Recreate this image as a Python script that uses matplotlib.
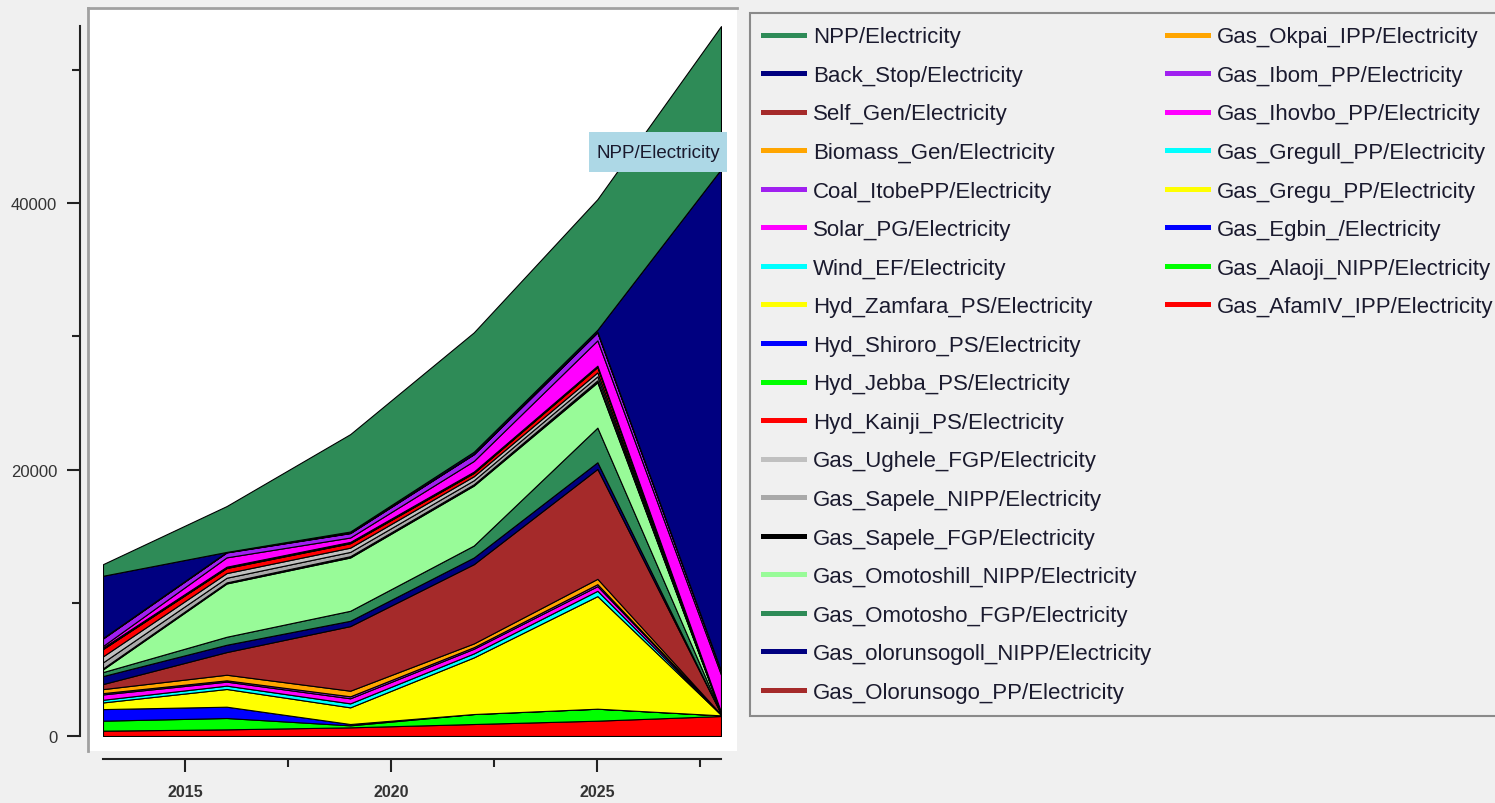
import matplotlib
matplotlib.use('Agg')
from matplotlib import pyplot as plt
from matplotlib.lines import Line2D
from matplotlib.patches import Rectangle
from matplotlib.ticker import MultipleLocator

plt.rcParams['font.family'] = ['Liberation Sans', 'DejaVu Sans']

years = [2013, 2016, 2019, 2022, 2025, 2028]

# stack order, bottom first
names = ['Gas_AfamIV_IPP/Electricity', 'Gas_Alaoji_NIPP/Electricity', 'Gas_Egbin_/Electricity',
         'Gas_Gregu_PP/Electricity', 'Gas_Gregull_PP/Electricity', 'Gas_Ihovbo_PP/Electricity',
         'Gas_Ibom_PP/Electricity', 'Gas_Okpai_IPP/Electricity', 'Gas_Olorunsogo_PP/Electricity',
         'Gas_olorunsogoll_NIPP/Electricity', 'Gas_Omotosho_FGP/Electricity',
         'Gas_Omotoshill_NIPP/Electricity', 'Gas_Sapele_FGP/Electricity',
         'Gas_Sapele_NIPP/Electricity', 'Gas_Ughele_FGP/Electricity', 'Hyd_Kainji_PS/Electricity',
         'Hyd_Jebba_PS/Electricity', 'Hyd_Shiroro_PS/Electricity', 'Hyd_Zamfara_PS/Electricity',
         'Wind_EF/Electricity', 'Solar_PG/Electricity', 'Coal_ItobePP/Electricity',
         'Biomass_Gen/Electricity', 'Self_Gen/Electricity', 'Back_Stop/Electricity',
         'NPP/Electricity']

afam       = [400, 500, 650, 900, 1150, 1500]
alaoji     = [750, 850, 150, 750, 900, 50]
egbin      = [870, 850, 100, 0, 0, 0]
gregu      = [500, 1330, 1250, 4250, 8450, 50]
gregu2     = [200, 250, 300, 300, 400, 0]
ihovbo     = [400, 300, 380, 350, 350, 0]
ibom       = [100, 100, 150, 120, 150, 0]
okpai      = [300, 420, 420, 280, 400, 20]
olorun     = [380, 1700, 4850, 5950, 8250, 50]
olorun2    = [600, 550, 400, 500, 500, 0]
omotosho   = [300, 600, 750, 900, 2600, 30]
omotosho2  = [200, 4000, 4000, 4500, 3400, 30]
sapele_fgp = [80, 80, 100, 100, 150, 20]
sapele_n   = [450, 350, 320, 300, 300, 20]
ughele     = [450, 350, 320, 300, 300, 20]
kainji     = [550, 380, 330, 250, 400, 20]
jebba      = [30, 30, 30, 30, 30, 0]
shiroro    = [30, 30, 30, 30, 30, 0]
zamfara    = [0, 0, 0, 0, 0, 0]
wind       = [50, 40, 40, 40, 40, 0]
solar      = [120, 700, 330, 800, 1900, 2800]
coal       = [560, 370, 330, 500, 600, 300]
biomass    = [20, 20, 20, 20, 20, 0]
selfgen    = [20, 20, 20, 20, 30, 0]
backstop   = [4670, 0, 80, 150, 150, 37640]
npp        = [870, 3440, 7310, 8960, 9800, 10740]

series = [afam, alaoji, egbin, gregu, gregu2, ihovbo, ibom, okpai, olorun, olorun2,
          omotosho, omotosho2, sapele_fgp, sapele_n, ughele, kainji, jebba, shiroro,
          zamfara, wind, solar, coal, biomass, selfgen, backstop, npp]

colors = ['#ff0000', '#00ff00', '#0000ff', '#ffff00', '#00ffff', '#ff00ff', '#a020f0',
          '#ffa500', '#a52a2a', '#000080', '#2e8b57', '#98fb98', '#000000', '#a9a9a9',
          '#c0c0c0', '#ff0000', '#00ff00', '#0000ff', '#ffff00', '#00ffff', '#ff00ff',
          '#a020f0', '#ffa500', '#a52a2a', '#000080', '#2e8b57']

W, H = 1495, 804
fig = plt.figure(figsize=(W/100, H/100), dpi=100, facecolor='#f0f0f0')

# white chart panel behind the axes
fig.patches.append(Rectangle((88/W, 1-752/H), (737-88)/W, (752-8)/H,
                             transform=fig.transFigure, facecolor='white',
                             edgecolor='none', zorder=-10))
fig.add_artist(Line2D([88/W, 88/W], [1-752/H, 1-9/H], transform=fig.transFigure,
                      color='#a0a0a0', lw=2, zorder=-5))
fig.add_artist(Line2D([88/W, 737/W], [1-9/H, 1-9/H], transform=fig.transFigure,
                      color='#a0a0a0', lw=2, zorder=-5))

ax = fig.add_axes([103/W, 1-737/H, (721-103)/W, (737-27)/H])
ax.set_facecolor('none')
ax.stackplot(years, series, colors=colors, edgecolor='black', linewidth=0.8)
ax.set_xlim(2013, 2028)
ax.set_ylim(0, 53300)

for s in ['top', 'right']:
    ax.spines[s].set_visible(False)
ax.spines['left'].set_position(('outward', 16.5))
ax.spines['bottom'].set_position(('outward', 16.5))
for s in ['left', 'bottom']:
    ax.spines[s].set_color('#222222')
    ax.spines[s].set_linewidth(1.5)

ax.xaxis.set_major_locator(MultipleLocator(5))
ax.xaxis.set_minor_locator(MultipleLocator(2.5))
ax.yaxis.set_major_locator(MultipleLocator(20000))
ax.yaxis.set_minor_locator(MultipleLocator(10000))
ax.tick_params(axis='both', which='major', length=9.4, width=1.5, color='#222222')
ax.tick_params(axis='both', which='minor', length=5.5, width=1.5, color='#222222')
ax.tick_params(axis='y', labelsize=12, pad=7, labelcolor='#333333')
ax.tick_params(axis='x', labelsize=11.5, pad=9, labelcolor='#333333')
for t in ax.get_xticklabels():
    t.set_fontweight('bold')

# hover label
fig.patches.append(Rectangle((589/W, 1-173/H), 138/W, 40/H, transform=fig.transFigure,
                             facecolor='#add8e6', edgecolor='none', zorder=5))
fig.text(658/W, 1-153/H, 'NPP/Electricity', ha='center', va='center',
         fontsize=13.5, color='#1a1a2e', zorder=6)

# legend: 18 rows in first column, 8 in second
handles = [Line2D([], [], color=c, lw=3.6) for c in colors[::-1]]
leg_labels = names[::-1]
blank = [Line2D([], [], color='none') for _ in range(10)]
leg = fig.legend(handles + blank, leg_labels + [''] * 10, ncol=2,
                 loc='upper left', bbox_to_anchor=(750/W, 1-14/H), borderaxespad=0,
                 fontsize=16, frameon=True, fancybox=False, facecolor='#f0f0f0',
                 edgecolor='#8a8a8a', framealpha=1, handlelength=1.85,
                 handletextpad=0.4, labelspacing=0.79, borderpad=0.6,
                 columnspacing=0.66)
leg.get_frame().set_linewidth(1.5)
for t in leg.get_texts():
    t.set_color('#1a1a2e')

fig.savefig('out.png', dpi=100, facecolor=fig.get_facecolor())
